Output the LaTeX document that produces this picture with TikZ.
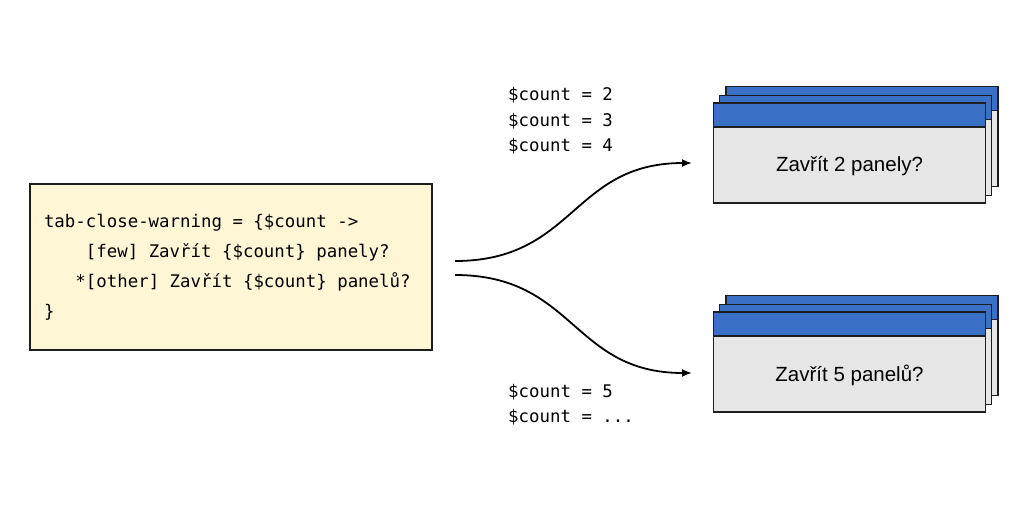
\documentclass[tikz,border=0pt]{standalone}
\usepackage{fontspec}
\setmainfont{Liberation Sans}
\newfontfamily\codefont{DejaVu Sans Mono}[WordSpace={1,0,0}]
\usetikzlibrary{arrows.meta}
\definecolor{codebg}{HTML}{FFF6D6}
\definecolor{winblue}{HTML}{3A71C6}
\definecolor{wingray}{HTML}{E6E6E6}
\definecolor{edge}{HTML}{1E1E1E}
\tikzset{
  win/.style={draw=edge, line width=1.6pt, fill=wingray, rectangle,
    minimum width=272pt, minimum height=100pt, inner sep=0pt,
    path picture={
      \fill[winblue] (path picture bounding box.north west) rectangle ([yshift=-24pt]path picture bounding box.north east);
      \draw[edge, line width=1.6pt] ([yshift=-24pt]path picture bounding box.north west) -- ([yshift=-24pt]path picture bounding box.north east);
    }},
  wintext/.style={font=\fontsize{20.5}{24}\selectfont, text=black, inner sep=0pt},
  codebox/.style={draw=edge, line width=1.4pt, fill=codebg, rectangle,
    minimum width=402pt, minimum height=166pt, inner xsep=14pt, inner ysep=0pt,
    align=flush left, text width=374pt, font=\codefont\fontsize{17.4}{30}\selectfont},
  countlabel/.style={align=left, inner sep=0pt, anchor=west,
    font=\codefont\fontsize{17.4}{25.5}\selectfont},
  flow/.style={line width=1.8pt, draw=black, -{Latex[length=10pt,width=8pt]}}
}
\begin{document}
\begin{tikzpicture}[x=1pt,y=-1pt]
\useasboundingbox (0,0) rectangle (1024,512);
% code box
\node[codebox] (code) at (231,267) {tab-close-warning = \{\$count ->\\
\phantom{xxxx}[few] Zavřít \{\$count\} panely?\\
\phantom{xxx}*[other] Zavřít \{\$count\} panelů?\\
\}};
% top window stack
\node[win] (t3) at (862,136.5) {};
\node[win] (t2) at (855.5,145.5) {};
\node[win] (t1) at (849.5,153) {};
\node[wintext] (t1text) at ([yshift=-13pt]t1.center) {Zavřít 2 panely?};
% bottom window stack
\node[win] (b3) at (862,345.5) {};
\node[win] (b2) at (855.5,354.5) {};
\node[win] (b1) at (849.5,362) {};
\node[wintext] (b1text) at ([yshift=-13pt]b1.center) {Zavřít 5 panelů?};
% connector endpoints
\coordinate (s1) at (455,261);
\coordinate (s2) at (455,275);
\coordinate (e1) at (692,163);
\coordinate (e2) at (692,373);
\draw[flow] (s1) .. controls (575,261) and (572,163) .. (e1);
\draw[flow] (s2) .. controls (575,275) and (572,373) .. (e2);
% labels
\node[countlabel] (lab1) at (508,121) {\$count = 2\\\$count = 3\\\$count = 4};
\node[countlabel] (lab2) at (508,404.5) {\$count = 5\\\$count = ...};
\end{tikzpicture}
\end{document}
